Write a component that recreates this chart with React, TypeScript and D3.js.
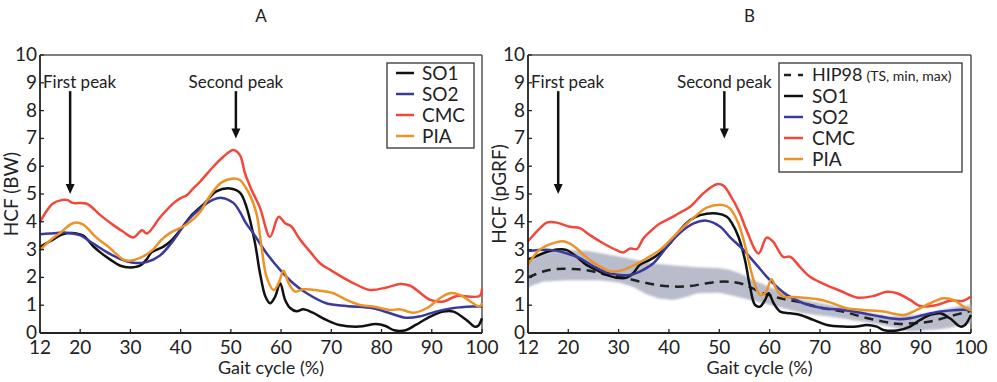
import React from "react";
import * as d3 from "d3";

// Gait cycle (%) and hip contact force values per model
const gaitSO1A = [12,14,16.5,18.3,20.6,22.6,24,26,28,30,31.9,33.2,34.2,36.5,38,40,42,44.5,47.2,49.8,51.8,53.1,54.8,55.8,56.9,57.8,58.8,59.8,60.8,61.8,63.1,64.4,66.3,69,71.6,75.5,78.9,80.8,82.5,84.8,86.8,89.7,92.3,94.3,96.9,98.5,99.2,100];
const hcfSO1A = [3.1,3.3,3.55,3.6,3.5,3.12,2.9,2.64,2.42,2.36,2.42,2.64,2.9,3.1,3.3,3.72,4.2,4.62,5.1,5.2,5.05,4.54,3.24,2.15,1.3,1.07,1.3,1.79,1.19,0.9,0.78,0.85,0.73,0.47,0.29,0.23,0.32,0.25,0.1,0.1,0.29,0.59,0.77,0.77,0.47,0.23,0.25,0.53];

const gaitSO2A = [12,14,17.3,19.9,22.6,25.2,27.9,30.6,33.2,35.9,38.6,41.2,43.9,46.5,48.2,50.5,51.8,53,54.5,57.1,59.8,62.4,65.1,69,73,78.3,81.7,84.8,87.5,90.8,94.1,98.1,100];
const hcfSO2A = [3.55,3.58,3.61,3.52,3.22,2.92,2.67,2.53,2.55,2.79,3.34,4.0,4.48,4.8,4.86,4.68,4.36,3.95,3.58,2.87,2.27,1.79,1.43,1.07,0.97,0.89,0.71,0.55,0.59,0.77,0.89,0.95,0.95];

const gaitCMCA = [12,13,14.5,16.3,17.5,18.5,21.3,24,26.6,28.5,30.6,32.3,33.3,36,38.6,40,41.2,42.2,43.9,46.5,48.5,50.5,51.8,52.8,54,55.8,57.8,59.5,60.8,62,63.8,65.8,67.8,69.8,73.8,77.7,81,83.7,85.7,89.7,92.3,95,99.5,100];
const hcfCMCA = [4.0,4.3,4.65,4.78,4.78,4.68,4.65,4.24,3.88,3.65,3.44,3.7,3.58,4.18,4.67,4.85,4.95,5.14,5.45,5.98,6.34,6.58,6.4,5.75,5.2,4.5,3.46,4.18,3.95,3.84,3.35,2.92,2.5,2.27,1.85,1.55,1.64,1.76,1.7,1.19,1.13,1.33,1.33,1.6];

const gaitPIAA = [12,14,16,18,18.9,20.6,23.3,25.9,28.6,29.9,31.9,34.5,35.9,37.9,41.2,43.9,45,46.5,48,50.5,51.8,53.8,55.1,56.1,57.1,58.5,59.5,60.5,61.5,62.8,64.4,67.8,70.4,73,75.7,78.3,81.7,83.7,86.3,89,91.6,93.6,95.6,98.2,99.5,100];
const hcfPIAA = [2.98,3.33,3.6,3.9,3.97,3.9,3.42,3.06,2.64,2.6,2.7,3.0,3.3,3.6,3.9,4.35,4.7,5.1,5.4,5.56,5.5,4.95,4.3,3.1,2.03,1.55,1.79,2.24,1.79,1.49,1.57,1.52,1.43,1.19,1.01,0.95,0.83,0.85,0.73,0.89,1.25,1.43,1.37,1.07,0.95,1.07];

const gaitSO1B = [12,12.7,15,17.7,19.6,21.6,23.6,25.6,27.6,29.6,31.6,32.9,34.2,36.2,38.2,40.2,42.2,44.2,46.2,49.5,51.5,52.5,53.8,55.1,56.1,57.1,58.1,59.1,59.8,60.8,62.1,64.1,66.1,68.7,71.4,74.6,77.3,79.3,81.3,82.6,85.3,87.9,89.9,91.9,93.9,95.8,97.9,98.8,100];
const hcfSO1B = [2.65,2.69,2.87,3.0,2.99,2.75,2.45,2.27,2.09,1.99,1.99,2.15,2.45,2.63,2.87,3.22,3.7,4.06,4.24,4.3,4.18,3.95,3.46,2.63,1.67,1.01,0.95,1.19,1.43,1.07,0.77,0.71,0.65,0.47,0.29,0.23,0.23,0.29,0.23,0.11,0.09,0.23,0.47,0.65,0.71,0.53,0.23,0.29,0.65];

const gaitSO2B = [12,16.4,19.6,22.3,24.9,27.6,30.3,32.3,34.2,36.9,39.6,42.2,44.9,47.5,50.2,52.1,54.8,57.4,59.4,61.4,63.4,66.7,70.6,74.6,78.6,82,85.3,87.9,90.6,93.9,97.2,100];
const hcfSO2B = [2.95,2.99,2.87,2.69,2.41,2.17,2.09,2.09,2.21,2.51,3.1,3.6,3.94,4.04,3.82,3.45,2.99,2.45,2.03,1.67,1.37,1.07,0.89,0.83,0.71,0.59,0.5,0.53,0.65,0.77,0.83,0.83];

const gaitCMCB = [12,14.4,15.7,17.7,20.3,22.3,24.3,27,29.6,30.9,32.3,33.6,34.9,36.2,38.2,40.2,41.9,44.2,46.8,49.5,50.8,52.1,54.1,55.4,57.8,59.4,60.7,62.7,64.1,66,68,70.6,74,77.3,80.6,83.3,85.3,87.9,89.9,93.2,95.8,98.5,100];
const hcfCMCB = [3.3,3.77,3.97,3.97,3.82,3.77,3.52,3.22,2.98,2.9,3.04,3.02,3.4,3.64,3.94,4.12,4.3,4.54,5.02,5.35,5.3,4.98,4.3,3.7,2.86,3.43,3.28,2.74,2.74,2.38,2.02,1.78,1.52,1.28,1.33,1.48,1.43,1.19,0.97,1.01,1.16,1.16,1.31];

const gaitPIAB = [12,14,15.7,17.7,19,21,23,24.9,26.9,28.6,30.9,33.6,35.6,38.2,40.9,43.6,45.5,47.5,50.8,52.1,53.8,55.1,56.8,58.1,59.1,60.4,61.4,62.7,65.3,69.3,72,75.3,78.6,82.6,86.6,89.2,91.9,94.5,96.5,98.5,100];
const hcfPIAB = [2.45,2.95,3.14,3.27,3.3,3.14,2.82,2.54,2.33,2.21,2.27,2.49,2.69,2.99,3.46,3.94,4.24,4.51,4.6,4.48,3.94,3.16,1.91,1.37,1.43,1.93,1.55,1.31,1.29,1.22,1.1,0.89,0.83,0.77,0.65,0.83,1.07,1.25,1.19,0.95,0.8];

const gaitHIP98 = [12,15,17.7,21,24.3,27.6,30.9,34.2,37.5,40.9,44.2,47.5,50.8,54.1,58.8,62.1,65.4,70.7,74.6,78.6,82.6,85.3,88.6,91.9,95.2,100];
const hcfHIP98 = [2.0,2.21,2.3,2.3,2.24,2.09,2.0,1.85,1.73,1.67,1.69,1.79,1.85,1.79,1.43,1.25,1.13,0.89,0.77,0.57,0.41,0.33,0.35,0.41,0.57,0.8];

const gaitHIP98Max = [12,15,18,24,30,37,44,50,52,54,57.4,61.4,65.3,72,78.6,84,89.2,93.2,97.2,100];
const hcfHIP98Max = [2.6,2.85,3.0,2.95,2.75,2.5,2.38,2.33,2.28,2.15,1.85,1.55,1.25,1.01,0.77,0.59,0.65,0.77,0.95,1.01];
const gaitHIP98Min = [12,15,20,26,30,33,35.5,38,41,43.5,45.5,50,52,54.8,58.8,62.7,66.7,72,78.6,84,87.9,91.9,95.2,100];
const hcfHIP98Min = [1.65,1.85,1.9,1.9,1.82,1.65,1.4,1.24,1.19,1.3,1.43,1.45,1.37,1.25,1.07,0.89,0.71,0.59,0.41,0.23,0.05,0.11,0.17,0.35];

const xTicks = [12, 20, 30, 40, 50, 60, 70, 80, 90, 100];
const yTicks = [0, 1, 2, 3, 4, 5, 6, 7, 8, 9, 10];
const modelNames = ["SO1", "SO2", "CMC", "PIA"];
const modelColors = ["#111111", "#3a3a9c", "#f2473a", "#ec9327"];

const FONT = "Lato, 'Open Sans', sans-serif";

type Pt = [number, number];
const zip = (xs: number[], ys: number[]): Pt[] => xs.map((x, i) => [x, ys[i]]);

interface PanelProps {
  x0: number;
  x1: number;
  title: string;
  yLabel: string;
  series: Pt[][];
  band?: { upper: Pt[]; lower: Pt[] };
  mean?: Pt[];
}

function Panel({ x0, x1, title, yLabel, series, band, mean }: PanelProps) {
  const top = 55;
  const bottom = 333;
  const x = d3.scaleLinear().domain([12, 100]).range([x0, x1]);
  const y = d3.scaleLinear().domain([0, 10]).range([bottom, top]);
  const line = d3
    .line<Pt>()
    .x((d) => x(d[0]))
    .y((d) => y(d[1]))
    .curve(d3.curveCatmullRom.alpha(0.5));

  let bandPath: string | null = null;
  if (band) {
    const up = d3.scaleLinear().domain(band.upper.map((d) => d[0])).range(band.upper.map((d) => d[1]));
    const lo = d3.scaleLinear().domain(band.lower.map((d) => d[0])).range(band.lower.map((d) => d[1]));
    const grid = d3.range(12, 100.01, 0.5);
    const area = d3
      .area<number>()
      .x((g) => x(g))
      .y0((g) => y(lo(g)))
      .y1((g) => y(up(g)))
      .curve(d3.curveBasis);
    bandPath = area(grid);
  }

  const arrows = [
    { gx: 18, from: 8.7, to: 5.0 },
    { gx: 51, from: 8.7, to: 7.0 },
  ];

  const cx = (x0 + x1) / 2;

  return (
    <g>
      <text x={cx} y={22} textAnchor="middle" fontSize={17} fontFamily={FONT} fill="#222">
        {title}
      </text>
      {/* frame */}
      <line x1={x0} x2={x1} y1={top} y2={top} stroke="#555" strokeWidth={1.5} />
      <line x1={x1} x2={x1} y1={top} y2={bottom} stroke="#555" strokeWidth={1.5} />

      {bandPath && <path d={bandPath} fill="#b8bccb" filter="url(#soft)" />}
      {mean && (
        <path d={line(mean) || ""} fill="none" stroke="#222" strokeWidth={2.5} strokeDasharray="9,6" />
      )}
      {series.map((s, i) => (
        <path key={i} d={line(s) || ""} fill="none" stroke={modelColors[i]} strokeWidth={2.5} strokeLinejoin="round" />
      ))}

      {/* axes with inward ticks */}
      <line x1={x0} x2={x0} y1={top} y2={bottom} stroke="#222" strokeWidth={1.8} />
      <line x1={x0} x2={x1} y1={bottom} y2={bottom} stroke="#222" strokeWidth={1.8} />
      {yTicks.map((t) => (
        <g key={"y" + t}>
          <line x1={x0} x2={x0 + 4} y1={y(t)} y2={y(t)} stroke="#222" strokeWidth={1.3} />
          <text x={x0 - 3} y={y(t) + 6} textAnchor="end" fontSize={19} fontFamily={FONT} fill="#222">
            {t}
          </text>
        </g>
      ))}
      {xTicks.map((t) => (
        <g key={"x" + t}>
          <line x1={x(t)} x2={x(t)} y1={bottom} y2={bottom - 4} stroke="#222" strokeWidth={1.3} />
          <text x={x(t)} y={bottom + 21} textAnchor="middle" fontSize={19} fontFamily={FONT} fill="#222">
            {t}
          </text>
        </g>
      ))}
      <text x={cx + 10} y={374} textAnchor="middle" fontSize={18} fontFamily={FONT} fill="#222">
        Gait cycle (%)
      </text>
      <text
        transform={`translate(${x0 - 22},${194}) rotate(-90)`}
        textAnchor="middle"
        fontSize={19}
        fontFamily={FONT}
        fill="#222"
      >
        {yLabel}
      </text>

      {/* peak annotations */}
      <text x={x0 + 3} y={y(8.8)} fontSize={17} fontFamily={FONT} fill="#222">
        First peak
      </text>
      <text x={x(51)} y={y(8.8)} textAnchor="middle" fontSize={17} fontFamily={FONT} fill="#222">
        Second peak
      </text>
      {arrows.map((a, i) => (
        <g key={"a" + i}>
          <line x1={x(a.gx)} x2={x(a.gx)} y1={y(a.from)} y2={y(a.to) - 8} stroke="#111" strokeWidth={2.5} />
          <path
            d={`M${x(a.gx) - 4.5},${y(a.to) - 10} L${x(a.gx) + 4.5},${y(a.to) - 10} L${x(a.gx)},${y(a.to)} Z`}
            fill="#111"
          />
        </g>
      ))}
    </g>
  );
}

function Legend({ x, y, w, h, withRef }: { x: number; y: number; w: number; h: number; withRef: boolean }) {
  const step = 21;
  const first = y + (withRef ? 12 : 10);
  return (
    <g>
      <rect x={x} y={y} width={w} height={h} fill="#fff" stroke="#333" strokeWidth={1.3} />
      {withRef && (
        <g>
          <line x1={x + 5} x2={x + 24} y1={first} y2={first} stroke="#222" strokeWidth={2.5} strokeDasharray="7,7" />
          <text x={x + 33} y={first + 6} fontSize={18} fontFamily={FONT} fill="#222">
            HIP98
            <tspan fontSize={14} dx={4}>(TS, min, max)</tspan>
          </text>
        </g>
      )}
      {modelNames.map((n, i) => {
        const ry = first + (withRef ? i + 1 : i) * step;
        return (
          <g key={n}>
            <line x1={x + 9 - (withRef ? 4 : 0)} x2={x + 27 - (withRef ? 3 : 0)} y1={ry} y2={ry} stroke={modelColors[i]} strokeWidth={2.5} />
            <text x={x + (withRef ? 33 : 35)} y={ry + 6.5} fontSize={19} fontFamily={FONT} fill="#222">
              {n}
            </text>
          </g>
        );
      })}
    </g>
  );
}

export default function App() {
  const seriesA = [zip(gaitSO1A, hcfSO1A), zip(gaitSO2A, hcfSO2A), zip(gaitCMCA, hcfCMCA), zip(gaitPIAA, hcfPIAA)];
  const seriesB = [zip(gaitSO1B, hcfSO1B), zip(gaitSO2B, hcfSO2B), zip(gaitCMCB, hcfCMCB), zip(gaitPIAB, hcfPIAB)];
  return (
    <svg
      width={997}
      height={382}
      style={{ position: "absolute", left: 0, top: 0, background: "#fff" }}
    >
      <defs>
        <filter id="soft" x="-5%" y="-20%" width="110%" height="140%">
          <feGaussianBlur stdDeviation="1.2" />
        </filter>
      </defs>
      <Panel x0={40} x1={482} title="A" yLabel="HCF (BW)" series={seriesA} />
      <Panel
        x0={528}
        x1={971}
        title="B"
        yLabel="HCF (pGRF)"
        series={seriesB}
        band={{ upper: zip(gaitHIP98Max, hcfHIP98Max), lower: zip(gaitHIP98Min, hcfHIP98Min) }}
        mean={zip(gaitHIP98, hcfHIP98)}
      />
      <Legend x={387} y={63} w={87} h={85} withRef={false} />
      <Legend x={779} y={63} w={183} h={109} withRef={true} />
    </svg>
  );
}
